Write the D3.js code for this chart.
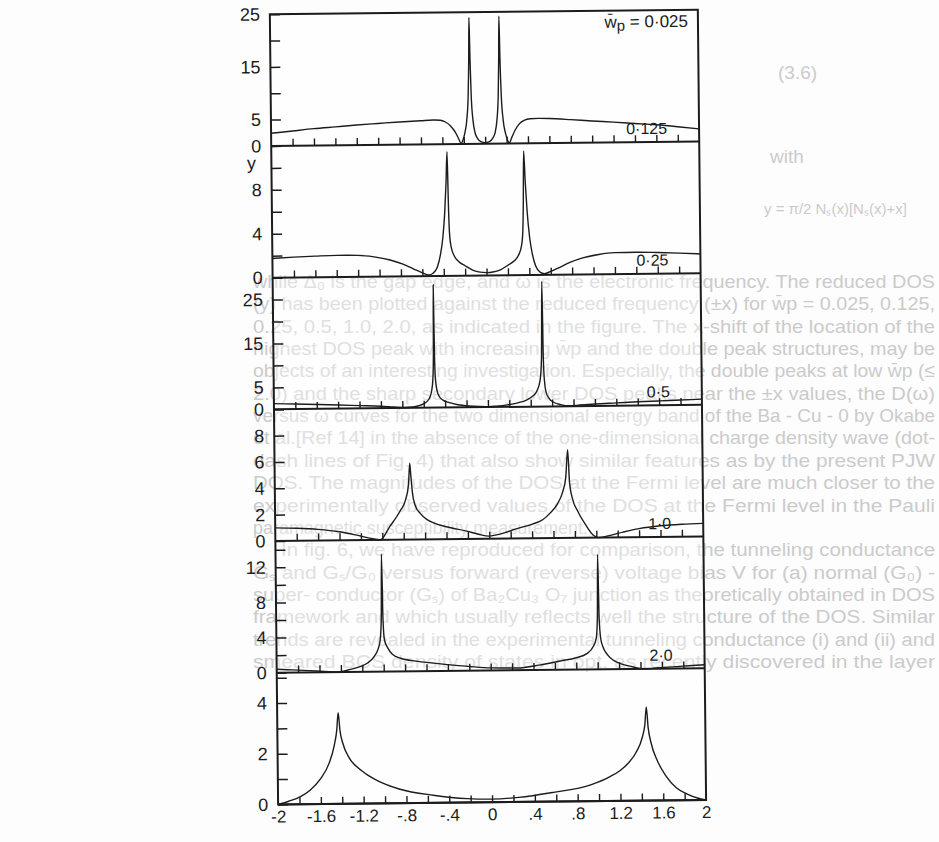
<!DOCTYPE html>
<html>
<head>
<meta charset="utf-8">
<script src="https://cdn.jsdelivr.net/npm/d3@7"></script>
<style>
  body { margin: 0; background: #fdfdfd; }
  svg { display: block; font-family: "Liberation Sans", Arial, sans-serif; }
</style>
</head>
<body>
<div id="chart"></div>
<script>
// reduced DOS (y) against reduced frequency (x), one panel per w̄p
const panelNames = ['0·025', '0·125', '0·25', '0·5', '1·0', '2·0'];
const yMax = [25, 12, 30, 10, 15, 5.2];
const yTicks = [
  [0, 5, 10, 15, 20, 25],
  [0, 2, 4, 6, 8, 10, 12],
  [0, 5, 10, 15, 20, 25, 30],
  [0, 2, 4, 6, 8, 10],
  [0, 2, 4, 6, 8, 10, 12, 14],
  [0, 1, 2, 3, 4, 5]
];
const yLabels = [[0, 5, 15, 25], [0, 4, 8], [0, 5, 15, 25], [0, 2, 4, 6, 8], [0, 4, 8, 12], [0, 2, 4]];
const xMinorTicks = [-1.8, -1.6, -1.4, -1.2, -1, -0.8, -0.6, -0.4, -0.2, 0, 0.2, 0.4, 0.6, 0.8, 1, 1.2, 1.4, 1.6, 1.8];
const xLabelValues = [-2, -1.6, -1.2, -0.8, -0.4, 0, 0.4, 0.8, 1.2, 1.6, 2];
const xTickLabels = ['-2', '-1.6', '-1.2', '-.8', '-.4', '0', '.4', '.8', '1.2', '1.6', '2'];

const dos0025 = [
  [-2, 2.4], [-1.8, 2.8], [-1.6, 3.2], [-1.4, 3.5], [-1.2, 3.8], [-1, 4.05], [-0.8, 4.3], [-0.6, 4.5],
  [-0.48, 4.6], [-0.42, 4.55], [-0.37, 4.2], [-0.32, 3.4], [-0.28, 2.3], [-0.25, 1.1], [-0.225, 0.1],
  [-0.21, 0.6], [-0.19, 2.0], [-0.17, 4.5], [-0.155, 9], [-0.146, 16], [-0.14, 24], [-0.134, 16],
  [-0.126, 9], [-0.112, 4.5], [-0.095, 2.2], [-0.07, 1.0], [-0.04, 0.4], [0, 0.2],
  [0.04, 0.4], [0.07, 1.0], [0.095, 2.2], [0.112, 4.5], [0.126, 9], [0.134, 16], [0.14, 24.2],
  [0.146, 16], [0.155, 9], [0.17, 4.5], [0.19, 2.0], [0.21, 0.6], [0.225, 0.1], [0.25, 1.2],
  [0.28, 2.5], [0.32, 3.7], [0.37, 4.4], [0.42, 4.65], [0.5, 4.7], [0.6, 4.65], [0.8, 4.4],
  [1, 4.1], [1.2, 3.85], [1.4, 3.55], [1.6, 3.25], [1.8, 2.85], [2, 2.4]
];
const dos0125 = [
  [-2, 1.75], [-1.8, 1.85], [-1.6, 1.92], [-1.4, 1.97], [-1.2, 1.95], [-1.05, 1.8], [-0.9, 1.5],
  [-0.78, 1.1], [-0.68, 0.65], [-0.6, 0.3], [-0.54, 0.1], [-0.5, 0.25], [-0.46, 0.8], [-0.43, 1.9],
  [-0.405, 3.5], [-0.385, 5.8], [-0.37, 8.5], [-0.358, 11.3], [-0.35, 6.5], [-0.343, 4.0],
  [-0.33, 2.7], [-0.3, 1.8], [-0.26, 1.3], [-0.2, 0.9], [-0.13, 0.5], [-0.06, 0.3], [0, 0.25],
  [0.06, 0.3], [0.13, 0.5], [0.2, 0.9], [0.26, 1.3], [0.3, 1.8], [0.33, 2.7], [0.343, 4.0],
  [0.35, 6.5], [0.358, 11.3], [0.37, 8.5], [0.385, 5.8], [0.405, 3.5], [0.43, 1.9], [0.46, 0.8],
  [0.5, 0.25], [0.54, 0.1], [0.6, 0.3], [0.68, 0.65], [0.78, 1.1], [0.9, 1.5], [1.05, 1.8],
  [1.2, 1.95], [1.4, 1.97], [1.6, 1.92], [1.8, 1.85], [2, 1.75]
];
const dos025 = [
  [-2, 1.3], [-1.8, 1.15], [-1.6, 1.0], [-1.4, 0.85], [-1.2, 0.65], [-1, 0.45], [-0.88, 0.25],
  [-0.78, 0.1], [-0.7, 0.2], [-0.63, 0.6], [-0.58, 1.2], [-0.545, 2.2], [-0.525, 3.8], [-0.512, 6.5],
  [-0.505, 12], [-0.5, 28], [-0.495, 12], [-0.488, 6.5], [-0.475, 4.0], [-0.455, 2.6], [-0.42, 1.7],
  [-0.36, 1.1], [-0.28, 0.6], [-0.18, 0.3], [-0.08, 0.15], [0, 0.1], [0.08, 0.2], [0.18, 0.45],
  [0.28, 0.9], [0.36, 1.5], [0.42, 2.4], [0.46, 3.6], [0.49, 6], [0.505, 11], [0.515, 28.5],
  [0.522, 11], [0.53, 6], [0.545, 3.2], [0.57, 1.9], [0.61, 1.0], [0.68, 0.4], [0.76, 0.1],
  [0.86, 0.25], [1, 0.45], [1.2, 0.65], [1.4, 0.85], [1.6, 1.0], [1.8, 1.15], [2, 1.3]
];
const dos05 = [
  [-2, 1.0], [-1.8, 0.95], [-1.6, 0.85], [-1.4, 0.65], [-1.25, 0.4], [-1.12, 0.15], [-1.02, 0],
  [-0.93, 1.0], [-0.83, 2.2], [-0.78, 3.0], [-0.75, 4.2], [-0.737, 5.8], [-0.728, 4.9], [-0.715, 3.6],
  [-0.69, 2.6], [-0.645, 2.0], [-0.58, 1.5], [-0.52, 1.25], [-0.4, 0.95], [-0.21, 0.6], [-0.1, 0.35],
  [0, 0.2], [0.1, 0.35], [0.26, 0.75], [0.41, 1.1], [0.5, 1.4], [0.57, 1.9], [0.64, 2.6],
  [0.69, 3.5], [0.72, 4.6], [0.74, 6.7], [0.755, 4.2], [0.78, 3.0], [0.83, 2.0], [0.9, 1.0],
  [0.97, 0.2], [1.02, 0], [1.12, 0.15], [1.25, 0.4], [1.4, 0.65], [1.6, 0.85], [1.8, 0.95], [2, 1.0]
];
const dos10 = [
  [-2, 0.4], [-1.85, 0.3], [-1.7, 0.2], [-1.55, 0.08], [-1.43, 0], [-1.31, 0.3], [-1.22, 0.6],
  [-1.15, 1.0], [-1.09, 1.7], [-1.05, 2.6], [-1.03, 3.6], [-1.018, 6], [-1.01, 13.4], [-1.002, 6],
  [-0.99, 3.6], [-0.96, 2.7], [-0.92, 2.0], [-0.84, 1.5], [-0.7, 1.15], [-0.53, 0.9], [-0.35, 0.65],
  [-0.21, 0.5], [0, 0.3], [0.25, 0.25], [0.45, 0.55], [0.65, 1.0], [0.8, 1.35], [0.9, 1.8],
  [0.96, 2.6], [0.99, 3.6], [1.002, 6], [1.01, 13.1], [1.018, 6], [1.03, 3.6], [1.05, 2.6],
  [1.09, 1.7], [1.15, 1.0], [1.22, 0.6], [1.31, 0.3], [1.43, 0], [1.55, 0.08], [1.7, 0.2],
  [1.85, 0.3], [2, 0.4]
];
const dos20 = [
  [-2, 0], [-1.9, 0.12], [-1.79, 0.3], [-1.7, 0.55], [-1.6, 1.0], [-1.52, 1.6], [-1.47, 2.3],
  [-1.445, 2.9], [-1.43, 3.6], [-1.415, 2.9], [-1.39, 2.4], [-1.33, 1.8], [-1.26, 1.45],
  [-1.17, 1.15], [-1.07, 0.9], [-0.86, 0.55], [-0.55, 0.3], [-0.23, 0.15], [0, 0.12], [0.25, 0.18],
  [0.55, 0.35], [0.93, 0.65], [1.1, 0.95], [1.2, 1.2], [1.28, 1.5], [1.35, 1.9], [1.41, 2.5],
  [1.435, 3.0], [1.45, 3.7], [1.465, 2.9], [1.49, 2.3], [1.55, 1.55], [1.63, 0.95], [1.72, 0.5],
  [1.82, 0.25], [1.92, 0.08], [2, 0]
];
const series = [dos0025, dos0125, dos025, dos05, dos10, dos20];

// page text showing through the scan
const pageLines = [
  'while Δ₀ is the gap edge, and ω is the electronic frequency. The reduced DOS',
  '(y) has been plotted against the reduced frequency (±x) for w̄p = 0.025, 0.125,',
  '0.25, 0.5, 1.0, 2.0, as indicated in the figure. The x-shift of the location of the',
  'highest DOS peak with increasing w̄p and the double peak structures, may be',
  'objects of an interesting investigation. Especially, the double peaks at low w̄p (≤',
  '2.0) and the sharp secondary lower DOS peaks near the ±x values, the D(ω)',
  'versus ω curves for the two dimensional energy band of the Ba - Cu - 0 by Okabe',
  'et al.[Ref 14] in the absence of the one-dimensional charge density wave (dot-',
  'dash lines of Fig. 4) that also show similar features as by the present PJW',
  'DOS. The magnitudes of the DOS at the Fermi level are much closer to the',
  'experimentally observed values of the DOS at the Fermi level in the Pauli',
  'paramagnetic susceptibility measurement.',
  'In fig. 6, we have reproduced for comparison, the tunneling conductance',
  'Gₛ and Gₛ/G₀ versus forward (reverse) voltage bias V for (a) normal (G₀) -',
  'super- conductor (Gₛ) of Ba₂Cu₃ O₇ junction as theoretically obtained in DOS',
  'framework and which usually reflects well the structure of the DOS. Similar',
  'trends are revealed in the experimental tunneling conductance (i) and (ii) and',
  'smeared BCS density of states in opt. as recently discovered in the layer'
];

const W = 939, H = 842;
const plotLeft = 274, plotRight = 702, plotTop = 12, panelH = 131.7;
const plotBottom = plotTop + panelH * 6;

const svg = d3.select('#chart').append('svg')
  .attr('width', W)
  .attr('height', H);

svg.append('rect').attr('width', W).attr('height', H).attr('fill', '#fdfdfd');

// faint background text
const bg = svg.append('g')
  .attr('fill', '#cbcbcb')
  .style('font-size', '19px');

bg.append('text').attr('x', 778).attr('y', 79).text('(3.6)');
bg.append('text').attr('x', 770).attr('y', 163).text('with');
bg.append('text').attr('x', 764).attr('y', 214)
  .style('font-size', '15px')
  .text('y = π/2 Nₛ(x)[Nₛ(x)+x]');

pageLines.forEach((t, i) => {
  const isLast = i === 11;
  const indent = i === 12 ? 28 : 0;
  const txt = bg.append('text')
    .attr('x', 253 + indent)
    .attr('y', 288 + i * 22.35)
    .text(t);
  if (isLast) {
    txt.attr('textLength', 335).attr('lengthAdjust', 'spacingAndGlyphs');
  } else {
    txt.attr('textLength', 682 - indent).attr('lengthAdjust', 'spacingAndGlyphs');
  }
});

// chart, slightly tilted like the scan
const g = svg.append('g').attr('transform', 'rotate(-0.6 488 410)');

g.append('rect')
  .attr('x', plotLeft).attr('y', plotTop)
  .attr('width', plotRight - plotLeft).attr('height', panelH * 6)
  .attr('fill', '#ffffff').attr('fill-opacity', 0.4);

const x = d3.scaleLinear().domain([-2, 2]).range([plotLeft, plotRight]);

const ink = '#1c1c1c';

series.forEach((data, i) => {
  const y0 = plotTop + panelH * (i + 1);
  const y = d3.scaleLinear().domain([0, yMax[i]]).range([y0, y0 - panelH]);
  const pg = g.append('g').attr('class', 'panel');

  // y ticks pointing inward
  const ya = pg.append('g')
    .attr('transform', `translate(${plotLeft},0)`)
    .call(d3.axisLeft(y)
      .tickValues(yTicks[i])
      .tickSize(-10)
      .tickPadding(10)
      .tickFormat(d => yLabels[i].includes(d) ? d : ''));
  ya.select('.domain').remove();
  ya.selectAll('line').attr('stroke', ink).attr('stroke-width', 1.5);
  ya.selectAll('text')
    .attr('fill', ink)
    .attr('font-size', 18)
    .attr('font-family', '"Liberation Sans", Arial, sans-serif');

  // x ticks standing up from the zero line
  const xa = pg.append('g')
    .attr('transform', `translate(0,${y0})`)
    .call(d3.axisTop(x).tickValues(xMinorTicks).tickSize(7).tickFormat(''));
  xa.select('.domain').remove();
  xa.selectAll('line').attr('stroke', ink).attr('stroke-width', 1.4);

  // zero line / panel separator
  pg.append('line')
    .attr('x1', x(-2)).attr('x2', x(2))
    .attr('y1', y(0)).attr('y2', y(0))
    .attr('stroke', ink).attr('stroke-width', 2);

  const line = d3.line()
    .x(d => x(d[0]))
    .y(d => y(d[1]))
    .curve(d3.curveMonotoneX);

  pg.append('path')
    .datum(data)
    .attr('d', line)
    .attr('fill', 'none')
    .attr('stroke', ink)
    .attr('stroke-width', 1.4)
    .attr('stroke-linejoin', 'round');

  if (i > 0) {
    pg.append('text')
      .attr('x', 670)
      .attr('y', plotTop + panelH * i - 8)
      .attr('text-anchor', 'end')
      .attr('font-size', 16)
      .attr('fill', ink)
      .text(panelNames[i]);
  }
});

// outer frame
g.append('rect')
  .attr('x', plotLeft).attr('y', plotTop)
  .attr('width', plotRight - plotLeft).attr('height', panelH * 6)
  .attr('fill', 'none')
  .attr('stroke', ink)
  .attr('stroke-width', 2);

// top label  w̄p = 0·025
const wl = g.append('text')
  .attr('x', 692)
  .attr('y', plotTop + 17)
  .attr('text-anchor', 'end')
  .attr('font-size', 17)
  .attr('fill', ink);
wl.append('tspan').text('w̄');
wl.append('tspan').attr('dy', 3).attr('font-size', 15).text('p');
wl.append('tspan').attr('dy', -3).text(' = ' + panelNames[0]);

// y axis name
g.append('text')
  .attr('x', plotLeft - 20)
  .attr('y', plotTop + panelH + 23)
  .attr('text-anchor', 'middle')
  .attr('font-size', 18)
  .attr('fill', ink)
  .text('y');

// bottom x labels
const bx = g.append('g')
  .attr('transform', `translate(0,${plotBottom})`)
  .call(d3.axisBottom(x)
    .tickValues(xLabelValues)
    .tickSize(0)
    .tickPadding(6)
    .tickFormat((d, i) => xTickLabels[i]));
bx.select('.domain').remove();
bx.selectAll('text')
  .attr('fill', ink)
  .attr('font-size', 17)
  .attr('font-family', '"Liberation Sans", Arial, sans-serif');
</script>
</body>
</html>
